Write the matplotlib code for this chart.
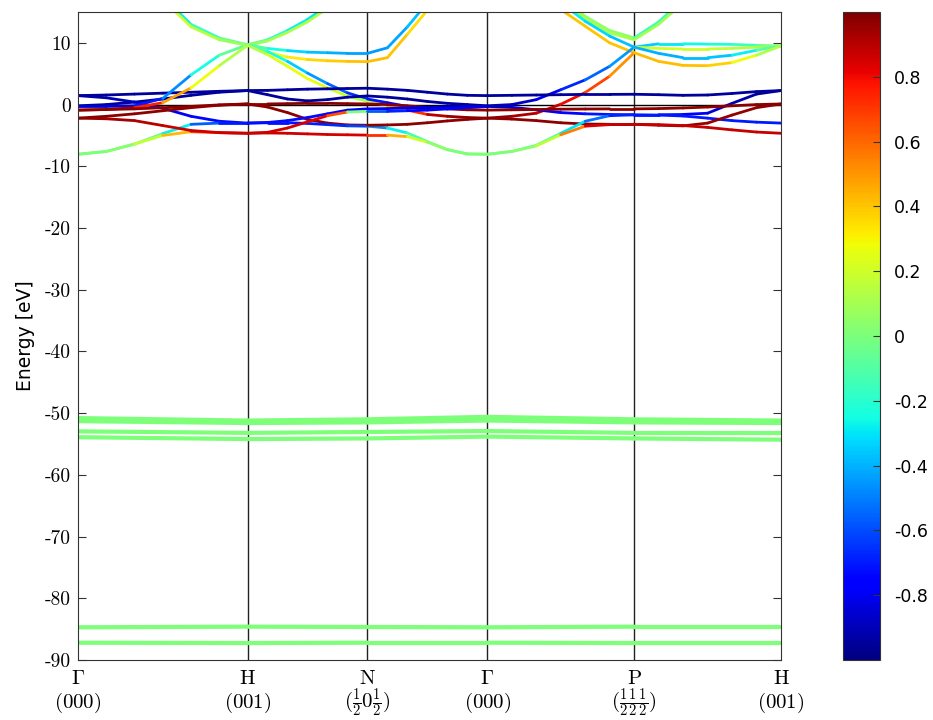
import numpy as np
import matplotlib
matplotlib.use('Agg')
import matplotlib.pyplot as plt
from matplotlib.collections import LineCollection
from matplotlib.colors import Normalize
import matplotlib.cm as cm
import matplotlib.transforms as mtransforms

plt.rcParams['mathtext.fontset'] = 'cm'

nan = np.nan

# high-symmetry points of the bcc path
kpoint_pos = [0.0, 1.0, 1.7071, 2.4142, 3.2802, 4.1463]
kpoint_names = [r'$\Gamma$', r'$\mathrm{H}$', r'$\mathrm{N}$',
                r'$\Gamma$', r'$\mathrm{P}$', r'$\mathrm{H}$']
kpoint_coords = [r'$(000)$', r'$(001)$', r'$(\frac{1}{2}0\frac{1}{2})$',
                 r'$(000)$', r'$(\frac{1}{2}\frac{1}{2}\frac{1}{2})$', r'$(001)$']
energy_ticks = [10, 0, -10, -20, -30, -40, -50, -60, -70, -80, -90]
weight_ticks = [-0.8, -0.6, -0.4, -0.2, 0, 0.2, 0.4, 0.6, 0.8]

# band energies (eV), 7 samples per path segment; weights in the same layout
E_GH = [
    [1.45, 1.55, 1.7, 1.85, 2.0, 2.15, 2.27],
    [-0.2, 0.0, 0.4, 0.9, 1.5, 2.0, 2.27],
    [1.45, 1.1, 0.4, -0.6, -1.9, -2.7, -3.0],
    [-0.3, -0.3, -0.2, 1.0, 4.8, 8.0, 9.7],
    [-0.9, -0.8, -0.5, 0.3, 2.7, 6.3, 9.6],
    [-8.05, -7.6, -6.4, -4.7, -3.2, -3.0, -3.0],
    [-8.05, -7.6, -6.4, -5.0, -4.4, -4.55, -4.65],
    [-2.2, -2.3, -2.6, -3.4, -4.2, -4.55, -4.65],
    [-2.2, -1.9, -1.5, -1.0, -0.5, -0.1, 0.1],
    [-0.9, -0.8, -0.7, -0.5, -0.3, -0.05, 0.1],
    [nan, nan, nan, 17.5, 13.0, 10.8, 9.7],
    [nan, nan, nan, 17.0, 12.6, 10.5, 9.6],
]
C_GH = [
    [-0.95] * 7,
    [-0.95] * 7,
    [-0.95, -0.92, -0.88, -0.82, -0.76, -0.72, -0.72],
    [-0.85, -0.85, -0.8, -0.6, -0.35, -0.15, 0.0],
    [0.95, 0.95, 0.9, 0.6, 0.35, 0.2, 0.05],
    [0.0, 0.0, 0.0, -0.1, -0.45, -0.68, -0.72],
    [0.0, 0.0, 0.05, 0.3, 0.55, 0.82, 0.86],
    [0.97, 0.95, 0.92, 0.88, 0.86, 0.86, 0.86],
    [0.97] * 7,
    [0.97] * 7,
    [-0.3, -0.3, -0.3, -0.3, -0.25, -0.1, 0.0],
    [0.2, 0.2, 0.2, 0.2, 0.2, 0.1, 0.05],
]

E_HN = [
    [9.7, 10.5, 12.0, 13.8, 16.0, nan, nan],
    [9.6, 10.3, 11.7, 13.4, 15.6, nan, nan],
    [9.7, 9.1, 8.75, 8.5, 8.4, 8.3, 8.3],
    [9.6, 8.5, 7.7, 7.3, 7.1, 7.0, 6.95],
    [9.7, 8.6, 7.0, 5.1, 3.4, 1.9, 0.9],
    [9.6, 8.1, 6.2, 4.2, 2.7, 1.35, 0.55],
    [2.27, 2.3, 2.4, 2.5, 2.55, 2.6, 2.65],
    [2.27, 1.6, 0.9, 0.6, 0.8, 1.2, 1.4],
    [0.1, 0.1, 0.15, 0.2, 0.2, 0.15, 0.1],
    [0.1, -0.4, -1.3, -2.4, -3.0, -3.3, -3.35],
    [-3.0, -2.95, -2.95, -3.05, -3.25, -3.45, -3.5],
    [-3.0, -2.9, -2.6, -2.1, -1.5, -0.9, -0.7],
    [-4.65, -4.6, -4.65, -4.75, -4.85, -4.9, -4.95],
    [-4.65, -4.5, -3.8, -2.8, -1.8, -1.2, -1.1],
]
C_HN = [
    [0.0, -0.15, -0.25, -0.3, -0.3, -0.3, -0.3],
    [0.05, 0.1, 0.12, 0.12, 0.12, 0.12, 0.12],
    [0.0, -0.2, -0.3, -0.35, -0.4, -0.42, -0.45],
    [0.05, 0.2, 0.3, 0.35, 0.38, 0.4, 0.42],
    [0.0, -0.2, -0.3, -0.4, -0.5, -0.6, -0.7],
    [0.05, 0.2, 0.25, 0.27, 0.25, 0.15, 0.05],
    [-0.95] * 7,
    [-0.95] * 7,
    [0.97] * 7,
    [0.97] * 7,
    [-0.72, -0.72, -0.72, -0.7, -0.68, -0.65, -0.6],
    [-0.72, -0.72, -0.72, -0.72, -0.74, -0.78, -0.8],
    [0.86, 0.86, 0.86, 0.86, 0.85, 0.85, 0.85],
    [0.86, 0.86, 0.86, 0.85, 0.8, 0.5, -0.5],
]

E_NG = [
    [8.3, 9.2, 12.6, 16.5, nan, nan, nan],
    [6.95, 7.6, 11.4, 15.3, nan, nan, nan],
    [2.65, 2.5, 2.3, 2.0, 1.7, 1.5, 1.45],
    [1.4, 1.2, 0.9, 0.5, 0.2, 0.0, -0.2],
    [0.55, -0.2, -0.9, -1.6, -1.9, -2.1, -2.2],
    [0.9, 0.3, -0.3, -0.6, -0.55, -0.4, -0.3],
    [-3.5, -3.8, -4.6, -6.0, -7.3, -8.0, -8.05],
    [-4.95, -4.95, -5.2, -6.1, -7.3, -8.0, -8.05],
    [-3.35, -3.3, -3.2, -2.95, -2.65, -2.4, -2.2],
    [0.1, 0.0, -0.2, -0.45, -0.7, -0.85, -0.9],
    [-0.7, -0.65, -0.55, -0.45, -0.35, -0.3, -0.3],
    [-1.1, -1.1, -1.0, -0.9, -0.7, -0.5, -0.3],
]
C_NG = [
    [-0.45, -0.45, -0.4, -0.35, -0.35, -0.35, -0.35],
    [0.42, 0.42, 0.38, 0.32, 0.32, 0.32, 0.32],
    [-0.95] * 7,
    [-0.95] * 7,
    [0.05, 0.3, 0.6, 0.85, 0.95, 0.97, 0.97],
    [-0.7, -0.72, -0.75, -0.8, -0.82, -0.85, -0.85],
    [-0.6, -0.35, -0.2, -0.05, 0.0, 0.0, 0.0],
    [0.85, 0.6, 0.3, 0.1, 0.0, 0.0, 0.0],
    [0.97] * 7,
    [0.97] * 7,
    [-0.8, -0.8, -0.82, -0.85, -0.87, -0.88, -0.88],
    [-0.5, -0.65, -0.72, -0.75, -0.78, -0.8, -0.85],
]

E_GP = [
    [nan, nan, nan, 17.5, 14.3, 12.0, 10.8],
    [nan, nan, nan, 17.0, 13.9, 11.6, 10.5],
    [nan, nan, nan, 16.5, 13.5, 11.1, 9.3],
    [nan, nan, nan, 15.4, 12.7, 10.0, 8.4],
    [-0.2, 0.0, 0.8, 2.4, 4.0, 6.2, 9.3],
    [-2.2, -1.9, -1.4, 0.05, 1.95, 4.6, 8.4],
    [1.45, 1.5, 1.55, 1.6, 1.65, 1.65, 1.67],
    [-0.3, -0.45, -0.85, -1.3, -1.5, -1.6, -1.65],
    [-0.9, -0.85, -0.8, -0.75, -0.72, -0.7, -0.7],
    [-2.2, -2.35, -2.6, -2.95, -3.15, -3.2, -3.2],
    [-8.05, -7.6, -6.6, -4.65, -2.7, -1.8, -1.65],
    [-8.05, -7.6, -6.7, -4.9, -3.5, -3.25, -3.2],
]
C_GP = [
    [0.05] * 7,
    [0.1] * 7,
    [-0.2, -0.2, -0.2, -0.25, -0.3, -0.35, -0.4],
    [0.4] * 7,
    [-0.9, -0.9, -0.85, -0.75, -0.6, -0.5, -0.4],
    [0.97, 0.95, 0.9, 0.85, 0.75, 0.6, 0.42],
    [-0.95] * 7,
    [-0.9, -0.88, -0.8, -0.75, -0.72, -0.7, -0.7],
    [0.97] * 7,
    [0.97] * 7,
    [0.0, 0.0, -0.05, -0.2, -0.4, -0.65, -0.7],
    [0.0, 0.0, 0.05, 0.3, 0.8, 0.88, 0.88],
]

E_PH = [
    [10.8, 13.4, 17.0, nan, nan, nan, nan],
    [10.5, 13.0, 16.5, nan, nan, nan, nan],
    [9.3, 9.85, 9.85, 9.8, 9.75, 9.6, 9.5],
    [9.3, 9.1, 9.0, 9.0, 9.1, 9.3, 9.5],
    [9.3, 8.3, 7.6, 7.6, 8.0, 8.8, 9.5],
    [8.4, 7.0, 6.35, 6.3, 6.8, 8.0, 9.5],
    [1.67, 1.6, 1.5, 1.55, 1.8, 2.1, 2.27],
    [-1.65, -1.65, -1.6, -1.4, 0.2, 1.7, 2.27],
    [-1.65, -1.7, -1.85, -2.2, -2.6, -2.85, -3.0],
    [-0.7, -0.65, -0.55, -0.4, -0.2, 0.0, 0.1],
    [-3.2, -3.35, -3.45, -3.0, -1.7, -0.5, 0.1],
    [-3.2, -3.25, -3.4, -3.7, -4.1, -4.45, -4.65],
]
C_PH = [
    [-0.15] * 7,
    [0.1] * 7,
    [-0.4, -0.3, -0.28, -0.25, -0.2, -0.1, 0.0],
    [0.2, 0.2, 0.2, 0.2, 0.15, 0.1, 0.05],
    [-0.4, -0.4, -0.4, -0.38, -0.35, -0.2, 0.0],
    [0.42, 0.42, 0.42, 0.4, 0.35, 0.2, 0.05],
    [-0.95] * 7,
    [-0.7, -0.7, -0.72, -0.8, -0.9, -0.95, -0.95],
    [-0.7] * 7,
    [0.97] * 7,
    [0.95, 0.95, 0.95, 0.95, 0.96, 0.97, 0.97],
    [0.88] * 7,
]

# semicore levels at the six high-symmetry points
core_1 = [-50.8, -51.2, -51.0, -50.6, -51.0, -51.2]
core_2 = [-51.3, -51.6, -51.5, -51.2, -51.5, -51.6]
core_3 = [-52.95, -53.2, -53.05, -52.9, -53.2, -53.2]
core_4 = [-53.9, -54.2, -54.1, -53.8, -54.1, -54.3]
core_5 = [-84.7, -84.6, -84.65, -84.7, -84.6, -84.6]
core_6 = [-87.2, -87.25, -87.2, -87.2, -87.25, -87.25]

seg_E = [E_GH, E_HN, E_NG, E_GP, E_PH]
seg_C = [C_GH, C_HN, C_NG, C_GP, C_PH]

norm = Normalize(vmin=-1, vmax=1)
cmap = plt.get_cmap('jet')

fig = plt.figure(figsize=(9.33, 7.2), dpi=100)
ax = fig.add_axes([78 / 933, 60 / 720, 703 / 933, 648 / 720])
cax = fig.add_axes([843 / 933, 60 / 720, 37 / 933, 648 / 720])


def add_band(k, e, c, lw=2.0):
    k = np.asarray(k, float)
    e = np.asarray(e, float)
    c = np.asarray(c, float)
    segs, vals = [], []
    for i in range(len(k) - 1):
        if np.isnan(e[i]) or np.isnan(e[i + 1]):
            continue
        segs.append([(k[i], e[i]), (k[i + 1], e[i + 1])])
        vals.append(0.5 * (c[i] + c[i + 1]))
    lc = LineCollection(segs, cmap=cmap, norm=norm, linewidths=lw,
                        capstyle='round', joinstyle='round')
    lc.set_array(np.array(vals))
    ax.add_collection(lc)


for i, (Es, Cs) in enumerate(zip(seg_E, seg_C)):
    k = np.linspace(kpoint_pos[i], kpoint_pos[i + 1], 7)
    for e, c in zip(Es, Cs):
        add_band(k, e, c)

for core in [core_1, core_2, core_3, core_4, core_5, core_6]:
    add_band(kpoint_pos, core, [0.0] * len(core), lw=3.0)

for kp in kpoint_pos[1:-1]:
    ax.axvline(kp, color='#222222', lw=1.0, zorder=0)
ax.axhline(0, color='black', lw=1.0, zorder=0)

ax.set_xlim(kpoint_pos[0], kpoint_pos[-1])
ax.set_ylim(-90, 15)
ax.set_xticks(kpoint_pos)
ax.set_xticklabels(kpoint_names, fontsize=15)
ax.tick_params(axis='x', length=0, pad=6)
trans = mtransforms.blended_transform_factory(ax.transData, ax.transAxes)
for kp, lab in zip(kpoint_pos, kpoint_coords):
    ax.text(kp, -0.066, lab, transform=trans, ha='center', va='center',
            fontsize=15)

ax.set_yticks(energy_ticks)
ax.set_yticklabels([str(t) for t in energy_ticks], fontfamily='cmr10', fontsize=14)
ax.tick_params(axis='y', direction='in', left=True, right=True, length=6,
               color='#333333', pad=5)
ax.set_ylabel('Energy [eV]', fontsize=13.5, labelpad=7)
for sp in ax.spines.values():
    sp.set_color('#333333')

sm = cm.ScalarMappable(norm=norm, cmap=cmap)
cb = fig.colorbar(sm, cax=cax)
cb.set_ticks(weight_ticks)
cb.set_ticklabels(['0' if t == 0 else f'{t:.1f}' for t in weight_ticks])
cb.ax.tick_params(direction='in', length=5, labelsize=12.5, pad=10, color='#333333')
cb.outline.set_edgecolor('#333333')

fig.savefig('out.png', dpi=100)
